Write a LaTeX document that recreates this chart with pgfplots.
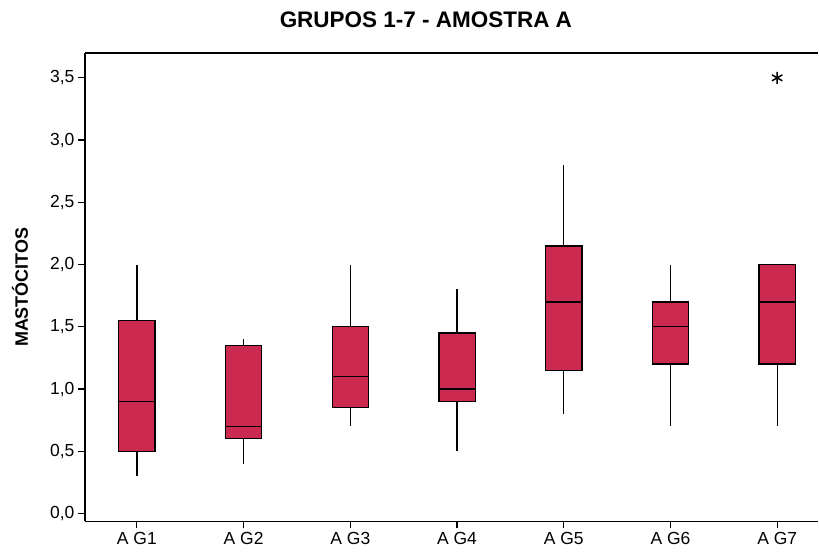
\documentclass[border=0pt]{standalone}
\usepackage{pgfplots}
\pgfplotsset{compat=1.18}
\usepgfplotslibrary{statistics}
\usepackage{fontspec}
\setmainfont{Liberation Sans}
\definecolor{boxred}{RGB}{204,41,80}
\begin{document}
\begin{tikzpicture}
\begin{axis}[
  at={(0,0)}, anchor=south west,
  scale only axis, width=734pt, height=469pt,
  xmin=0.513, xmax=7.384, ymin=-0.064, ymax=3.70,
  clip=false,
  axis lines*=left,
  axis line style={-, line width=1.7pt, black},
  xtick={1,2,3,4,5,6,7},
  xticklabels={A G1,A G2,A G3,A G4,A G5,A G6,A G7},
  ytick={0,0.5,1,1.5,2,2.5,3,3.5},
  tick align=outside,
  major tick length=7pt,
  tick style={black, line width=1.2pt},
  xtick pos=bottom, ytick pos=left,
  ticklabel style={font=\fontsize{17.5}{20}\selectfont},
  /pgf/number format/.cd, use comma, fixed, fixed zerofill, precision=1, assume math mode=true,
  /pgfplots/.cd,
  title={GRUPOS 1-7 - AMOSTRA A},
  title style={font=\fontsize{22.5}{26}\selectfont\bfseries, at={(0.465,1)}, anchor=base, yshift=19pt},
  ylabel={MASTÓCITOS},
  every axis y label/.style={at={(axis description cs:-0.0886,0.5)}, rotate=90, anchor=center, font=\fontsize{18}{20}\selectfont\bfseries},
  boxplot/draw direction=y,
  boxplot/box extend=0.34,
  boxplot/whisker extend=0,
]
\addplot[boxplot prepared={draw position=1, lower whisker=0.3, lower quartile=0.5, median=0.9, upper quartile=1.55, upper whisker=2.0}, draw=black, fill=boxred, line width=1.3pt] coordinates {};
\addplot[boxplot prepared={draw position=2, lower whisker=0.4, lower quartile=0.6, median=0.7, upper quartile=1.35, upper whisker=1.4}, draw=black, fill=boxred, line width=1.3pt] coordinates {};
\addplot[boxplot prepared={draw position=3, lower whisker=0.7, lower quartile=0.85, median=1.1, upper quartile=1.5, upper whisker=2.0}, draw=black, fill=boxred, line width=1.3pt] coordinates {};
\addplot[boxplot prepared={draw position=4, lower whisker=0.5, lower quartile=0.9, median=1.0, upper quartile=1.45, upper whisker=1.8}, draw=black, fill=boxred, line width=1.3pt] coordinates {};
\addplot[boxplot prepared={draw position=5, lower whisker=0.8, lower quartile=1.15, median=1.7, upper quartile=2.15, upper whisker=2.8}, draw=black, fill=boxred, line width=1.3pt] coordinates {};
\addplot[boxplot prepared={draw position=6, lower whisker=0.7, lower quartile=1.2, median=1.5, upper quartile=1.7, upper whisker=2.0}, draw=black, fill=boxred, line width=1.3pt] coordinates {};
\addplot[boxplot prepared={draw position=7, lower whisker=0.7, lower quartile=1.2, median=1.7, upper quartile=2.0, upper whisker=2.0}, draw=black, fill=boxred, line width=1.3pt] coordinates {};
\addplot[only marks, mark=asterisk, mark size=6pt, mark options={draw=black, line width=1.5pt}] coordinates {(7,3.5)};
\draw[line width=1.7pt, black] (rel axis cs:0,1) -- (rel axis cs:1,1);
\end{axis}
\path (-85pt,-32pt) rectangle (734pt,522pt);
\end{tikzpicture}
\end{document}
